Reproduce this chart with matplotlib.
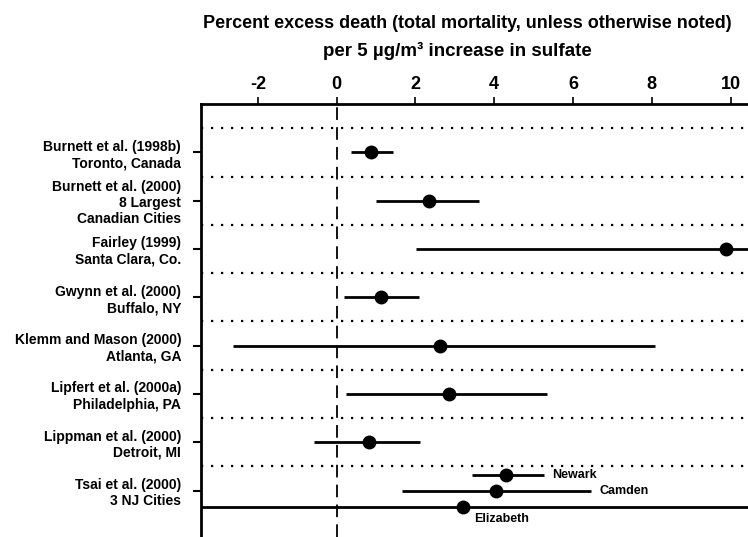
import matplotlib
matplotlib.use("Agg")
import matplotlib.pyplot as plt

plt.rcParams.update({"font.family": ["Liberation Sans", "DejaVu Sans"], "font.weight": "bold"})

# study labels (top to bottom) and estimates, % excess death per 5 ug/m3 sulfate
studies = ["Burnett et al. (1998b)\nToronto, Canada",
           "Burnett et al. (2000)\n8 Largest\nCanadian Cities",
           "Fairley (1999)\nSanta Clara, Co.",
           "Gwynn et al. (2000)\nBuffalo, NY",
           "Klemm and Mason (2000)\nAtlanta, GA",
           "Lipfert et al. (2000a)\nPhiladelphia, PA",
           "Lippman et al. (2000)\nDetroit, MI",
           "Tsai et al. (2000)\n3 NJ Cities"]
est = [0.86, 2.35, 9.88, 1.12, 2.62, 2.85, 0.83]
lo  = [0.37, 1.00, 2.01, 0.19, -2.64, 0.24, -0.58]
hi  = [1.42, 3.62, 12.0, 2.09, 8.08, 5.33, 2.11]

# Tsai et al. 3 NJ cities
nj_city = ["Newark", "Camden", "Elizabeth"]
nj_est  = [4.30, 4.04, 3.20]
nj_lo   = [3.43, 1.66, -4.0]
nj_hi   = [5.27, 6.45, 12.0]
nj_off  = [-0.33, 0.0, 0.33]

xticks = [-2, 0, 2, 4, 6, 8, 10]

fig = plt.figure(figsize=(7.48, 5.37), dpi=100)
fig.patch.set_facecolor("white")
ax = fig.add_axes([0.2683, 0.0, 0.7317, 0.8063])

ypos = list(range(len(studies)))
for y, e, l, h in zip(ypos, est, lo, hi):
    ax.plot([l, h], [y, y], color="black", lw=2.0, solid_capstyle="butt")
    ax.plot(e, y, "o", color="black", ms=9)

y0 = ypos[-1]
for name, e, l, h, o in zip(nj_city, nj_est, nj_lo, nj_hi, nj_off):
    ax.plot([l, h], [y0 + o, y0 + o], color="black", lw=2.0, solid_capstyle="butt")
    ax.plot(e, y0 + o, "o", color="black", ms=9)
    if name == "Elizabeth":
        ax.annotate(name, (e, y0 + o), xytext=(8, -9), textcoords="offset points",
                    fontsize=9, va="center", ha="left")
    else:
        ax.annotate(name, (h, y0 + o), xytext=(6, 0), textcoords="offset points",
                    fontsize=9, va="center", ha="left")

# row separators
for y in ypos:
    ax.axhline(y - 0.5, color="black", ls=(0, (1, 3.5)), lw=1.6)
ax.axvline(0, color="black", ls=(0, (7, 4)), lw=1.3)

ax.set_xlim(-3.45, 10.44)
ax.set_ylim(7.96, -1.0)
ax.xaxis.tick_top()
ax.set_xticks(xticks)
ax.set_xticklabels([str(t) for t in xticks], fontsize=13)
ax.tick_params(axis="x", direction="out", length=5, width=1.2, pad=3)
ax.set_yticks(ypos)
ax.set_yticklabels(studies, fontsize=10, linespacing=1.2)
ax.tick_params(axis="y", direction="out", length=6, width=1.5, pad=8)
for s in ("right", "bottom"):
    ax.spines[s].set_visible(False)
for s in ("left", "top"):
    ax.spines[s].set_linewidth(2)

fig.text(0.625, 0.957, "Percent excess death (total mortality, unless otherwise noted)",
         ha="center", va="center", fontsize=13)
fig.text(0.612, 0.906, "per 5 \u00b5g/m\u00b3 increase in sulfate",
         ha="center", va="center", fontsize=13.5)

fig.savefig("out.png", dpi=100, facecolor="white")
